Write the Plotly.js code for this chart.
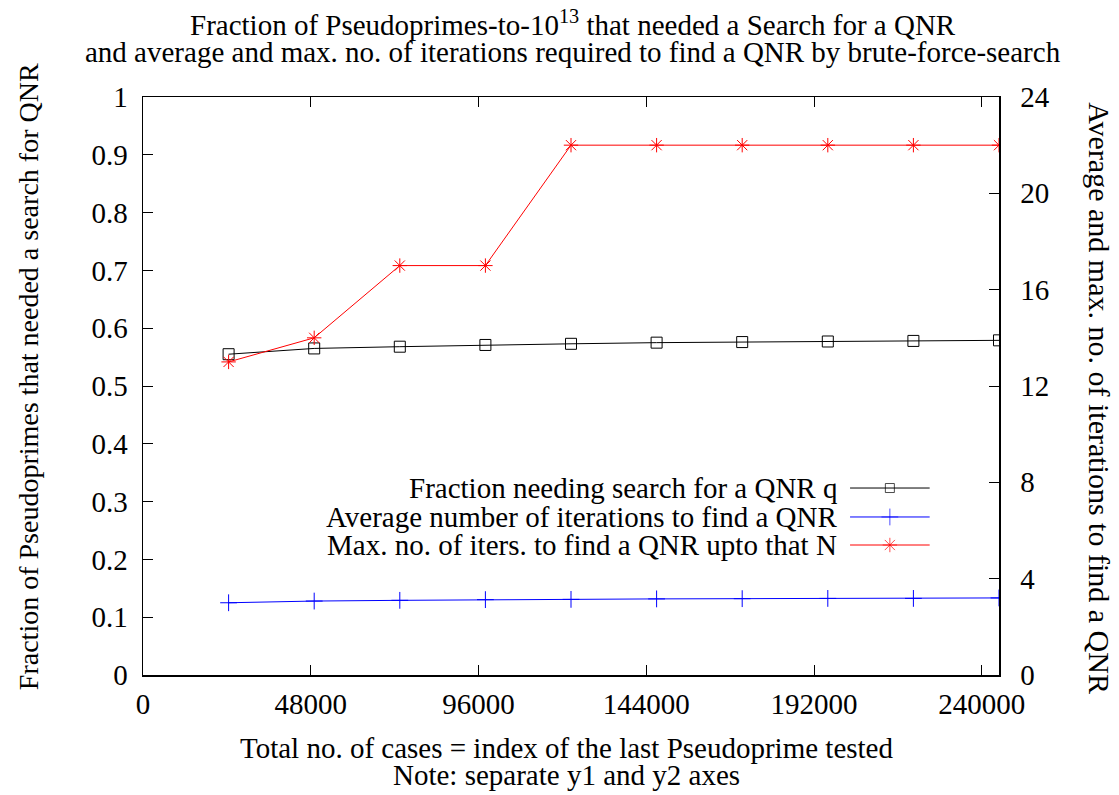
<!DOCTYPE html>
<html>
<head>
<meta charset="utf-8">
<script src="https://cdn.plot.ly/plotly-3.0.1.min.js"></script>
<style>html,body{margin:0;padding:0;background:#fff;}#chart{width:1119px;height:795px;}</style>
</head>
<body>
<div id="chart"></div>
<script>
// Data
const casesTested = [24490, 48980, 73470, 97960, 122450, 146940, 171430, 195920, 220410, 244900];
const fractionNeedingSearch = [0.555, 0.565, 0.568, 0.571, 0.573, 0.575, 0.576, 0.577, 0.578, 0.579];
const avgIterations = [3.00, 3.07, 3.10, 3.13, 3.14, 3.16, 3.17, 3.18, 3.18, 3.20];
const maxIterations = [13, 14, 17, 17, 22, 22, 22, 22, 22, 22];
const xTicks = [0, 48000, 96000, 144000, 192000, 240000];
const seriesNames = [
  "Fraction needing search for a QNR q",
  "Average number of iterations to find a QNR",
  "Max. no. of iters. to find a QNR upto that N"
];
const titleLines = [
  "Fraction of Pseudoprimes-to-10<sup>13</sup> that needed a Search for a QNR",
  "and average and max. no. of iterations required to find a QNR by brute-force-search"
];
const xTitleLines = [
  "Total no. of cases = index of the last Pseudoprime tested",
  "Note: separate y1 and y2 axes"
];
const y1Title = "Fraction of Pseudoprimes that needed a search for QNR";
const y2Title = "Average and max. no. of iterations to find a QNR";

const FONT = "'Liberation Serif', 'Times New Roman', Times, serif";
const FS = 29;

const traces = [
  {x: casesTested, y: fractionNeedingSearch, mode: "lines+markers", xaxis: "x", yaxis: "y",
   line: {color: "#000000", width: 1}, marker: {symbol: "square-open", size: 11, color: "#000000", line: {width: 1}},
   showlegend: false},
  {x: casesTested, y: avgIterations, mode: "lines+markers", xaxis: "x", yaxis: "y2",
   line: {color: "#0000ff", width: 1}, marker: {symbol: "cross-thin-open", size: 12, color: "#0000ff", line: {width: 1, color: "#0000ff"}},
   showlegend: false},
  {x: casesTested, y: maxIterations, mode: "lines+markers", xaxis: "x", yaxis: "y2",
   line: {color: "#ff0000", width: 1}, marker: {symbol: "asterisk-open", size: 12, color: "#ff0000", line: {width: 1, color: "#ff0000"}},
   showlegend: false}
];

// custom legend (gnuplot style: text on the left, sample on the right)
const legRowsY = [0.3235, 0.2734, 0.2249];
const legX0 = 0.826, legX1 = 0.919;
const legStyles = [
  {color: "#000000", symbol: "square-open", size: 9},
  {color: "#0000ff", symbol: "cross-thin-open", size: 12},
  {color: "#ff0000", symbol: "asterisk-open", size: 12}
];
const annotations = [];
const txt = (text, x, y, opts, size) => Object.assign({
  xref: "paper", yref: "paper", x: x, y: y, xanchor: "center", yanchor: "middle",
  text: text, showarrow: false, font: {family: FONT, size: size || FS, color: "#000"}
}, opts || {});

seriesNames.forEach((name, i) => {
  const s = legStyles[i];
  traces.push({
    x: [legX0, (legX0 + legX1) / 2, legX1], y: [legRowsY[i], legRowsY[i], legRowsY[i]],
    xaxis: "x3", yaxis: "y3", mode: "lines+markers", hoverinfo: "skip", showlegend: false,
    line: {color: s.color, width: 1},
    marker: {symbol: s.symbol, size: [0, s.size, 0], color: s.color, line: {width: 1, color: s.color}}
  });
  annotations.push(txt(name, 0.8135, legRowsY[i], {xanchor: "right"}));
});

annotations.push(txt(titleLines[0], 0.502, 1.128));
annotations.push(txt(titleLines[1], 0.502, 1.078));
annotations.push(txt(xTitleLines[0], 0.495, -0.126));
annotations.push(txt(xTitleLines[1], 0.495, -0.173));
annotations.push(txt(y1Title, -0.133, 0.5156, {textangle: -90}, 28));
annotations.push(txt(y2Title, 1.118, 0.479, {textangle: 90}, 30));

const layout = {
  width: 1119, height: 795,
  margin: {l: 143, r: 120, t: 97, b: 120},
  paper_bgcolor: "#fff", plot_bgcolor: "#fff",
  font: {family: FONT, size: FS, color: "#000"},
  xaxis: {
    range: [0, 244900], tickvals: xTicks, ticktext: xTicks.map(String),
    showgrid: false, zeroline: false, showline: true, linecolor: "#000", linewidth: 1.5,
    mirror: "ticks", ticks: "inside", ticklen: 10, tickcolor: "#000", tickwidth: 1,
    tickfont: {family: FONT, size: FS}, ticklabelstandoff: 3
  },
  yaxis: {
    range: [0, 1], dtick: 0.1, tick0: 0, showgrid: false, zeroline: false,
    showline: true, linecolor: "#000", linewidth: 1.5, mirror: true,
    ticks: "inside", ticklen: 10, tickcolor: "#000", tickwidth: 1,
    tickfont: {family: FONT, size: FS}, ticklabelstandoff: 8
  },
  yaxis2: {
    range: [0, 24], dtick: 4, tick0: 0, overlaying: "y", side: "right", showgrid: false, zeroline: false,
    showline: true, linecolor: "#000", linewidth: 1.5,
    ticks: "inside", ticklen: 10, tickcolor: "#000", tickwidth: 1,
    tickfont: {family: FONT, size: FS}, ticklabelstandoff: 14
  },
  xaxis3: {overlaying: "x", range: [0, 1], visible: false, fixedrange: true},
  yaxis3: {overlaying: "y", range: [0, 1], visible: false, fixedrange: true},
  annotations: annotations,
  showlegend: false
};

Plotly.newPlot("chart", traces, layout, {displayModeBar: false, staticPlot: true});
</script>
</body>
</html>
